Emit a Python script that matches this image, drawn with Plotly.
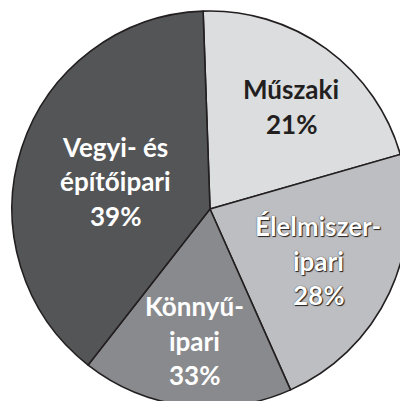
import plotly.graph_objects as go

# ---- data ----
categories = ["Műszaki", "Élelmiszer-ipari", "Könnyűipari", "Vegyi- és építőipari"]
slice_sizes = [76, 82, 62, 140]          # slice share as drawn (degrees of the circle)
percent_labels = ["21%", "28%", "33%", "39%"]
label_lines = [
    ["Műszaki"],
    ["Élelmiszer-", "ipari"],
    ["Könnyű-", "ipari"],
    ["Vegyi- és", "építőipari"],
]

# ---- style ----
W, H = 410, 410
colors = ["#dcdddf", "#bdbec1", "#898a8d", "#545557"]
text_colors = ["#231f20", "#ffffff", "#ffffff", "#ffffff"]
text_shadows = ["none", "1px 1px 1px #231f20, 0px 0px 1px #231f20", "none", "none"]
# label block centres (pixels from top-left) and first-line y
label_x = [291, 318, 194, 115]
label_y0 = [89, 226, 306, 147]
line_gap = 34.5
FONT = "Lato"

fig = go.Figure(go.Pie(
    labels=categories,
    values=slice_sizes,
    sort=False,
    direction="clockwise",
    rotation=-2,
    marker=dict(colors=colors, line=dict(color="#231f20", width=1.6)),
    textinfo="none",
    hoverinfo="label",
    showlegend=False,
    domain=dict(x=[12 / W, 408 / W], y=[1 - 407 / H, 1 - 11 / H]),
))

for i, cat in enumerate(categories):
    lines = label_lines[i] + [percent_labels[i]]
    for j, ln in enumerate(lines):
        y_px = label_y0[i] + j * line_gap
        fig.add_annotation(
            x=label_x[i] / W, y=1 - y_px / H, xref="paper", yref="paper",
            text=ln, showarrow=False, xanchor="center", yanchor="middle",
            font=dict(family=FONT, size=26, color=text_colors[i], weight="bold",
                      shadow=text_shadows[i]),
        )

fig.update_layout(
    width=W, height=H,
    margin=dict(l=0, r=0, t=0, b=0),
    paper_bgcolor="white",
    plot_bgcolor="white",
)

fig.write_html(
    "out.html",
    config={"displayModeBar": False},
    post_script="document.body.style.margin='0';document.body.style.overflow='hidden';document.documentElement.style.overflow='hidden';",
)
